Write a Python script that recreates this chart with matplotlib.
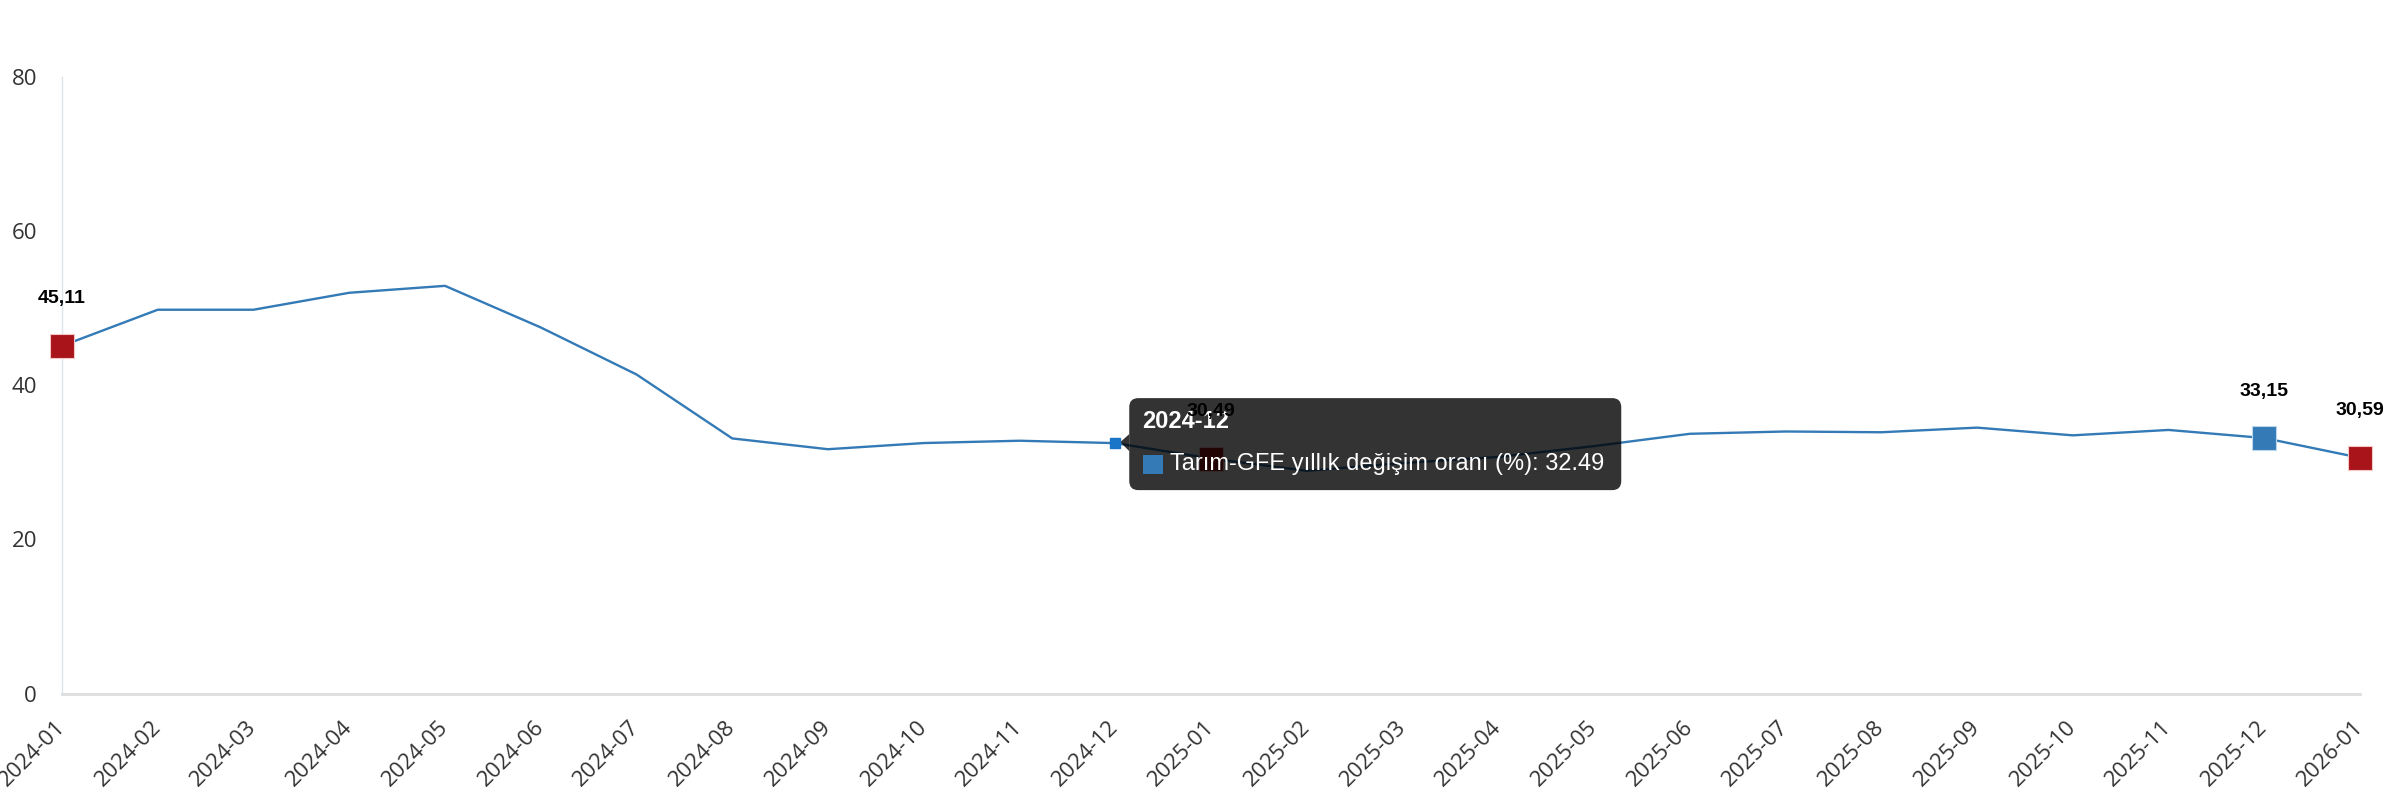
import matplotlib
matplotlib.use("Agg")
import matplotlib.pyplot as plt
from matplotlib.patches import FancyBboxPatch, Polygon, Rectangle
from matplotlib.transforms import IdentityTransform

## data
months = ["2024-01", "2024-02", "2024-03", "2024-04", "2024-05", "2024-06",
          "2024-07", "2024-08", "2024-09", "2024-10", "2024-11", "2024-12",
          "2025-01", "2025-02", "2025-03", "2025-04", "2025-05", "2025-06",
          "2025-07", "2025-08", "2025-09", "2025-10", "2025-11", "2025-12",
          "2026-01"]
values = [45.11, 49.8, 49.8, 52.0, 52.9, 47.5,
          41.4, 33.1, 31.7, 32.5, 32.8, 32.49,
          30.49, 28.9, 29.9, 30.7, 32.1, 33.7,
          34.0, 33.9, 34.5, 33.5, 34.2, 33.15,
          30.59]
red_points = ["2024-01", "2025-01", "2026-01"]
blue_points = ["2025-12"]
hover_month = "2024-12"
series_name = "Tarım-GFE yıllık değişim oranı (%)"
y_ticks = [0, 20, 40, 60, 80]

LINE_COL = "#337ab7"
RED_COL = "#a8141a"

fig = plt.figure(figsize=(23.84, 8), dpi=100)
ax = fig.add_axes([62 / 2384, 1 - 693.5 / 800, (2360 - 62) / 2384, (693.5 - 77) / 800])

x = list(range(len(months)))
ax.plot(x, values, color=LINE_COL, linewidth=1.7, zorder=2)

# highlighted points with labels
for m in red_points + blue_points:
    i = months.index(m)
    col = RED_COL if m in red_points else LINE_COL
    ax.plot(i, values[i], marker="s", markersize=17, color=col,
            markeredgecolor="#f4c6c6" if m in red_points else "#bcd6ec",
            markeredgewidth=0.8, zorder=3, clip_on=False)
    ax.annotate(f"{values[i]:.2f}".replace(".", ","), (i, values[i]),
                textcoords="offset pixels", xytext=(0, 47), ha="center", va="center",
                fontsize=14, fontweight="bold", family="Liberation Sans",
                color="black", zorder=8, annotation_clip=False)

# hovered point
hi = months.index(hover_month)
ax.plot(hi, values[hi], marker="s", markersize=7, color="#1a75c9", zorder=7)

ax.set_xlim(0, len(months) - 1)
ax.set_ylim(0, 80)
ax.set_yticks(y_ticks)
ax.set_xticks(x)
ax.set_xticklabels(months, rotation=45, ha="right", va="center", rotation_mode="anchor")
ax.tick_params(axis="both", length=0, labelsize=16, labelcolor="#333333")
ax.tick_params(axis="y", pad=18)
ax.tick_params(axis="x", pad=22)
for lab in ax.get_xticklabels() + ax.get_yticklabels():
    lab.set_family("Open Sans")

for s in ["top", "right"]:
    ax.spines[s].set_visible(False)
ax.spines["left"].set_color("#dde3ed")
ax.spines["left"].set_linewidth(1.0)
ax.spines["bottom"].set_color("#dedede")
ax.spines["bottom"].set_linewidth(2.0)

# tooltip, placed in pixels relative to the hovered point
px, py = ax.transData.transform((hi, values[hi]))
ident = IdentityTransform()
box = FancyBboxPatch((px + 14, py - 47), 492, 92,
                     boxstyle="round,pad=0,rounding_size=9",
                     facecolor="black", alpha=0.8, edgecolor="none",
                     transform=ident, zorder=5, clip_on=False)
ax.add_patch(box)
arrow = Polygon([(px + 5, py + 1), (px + 14, py + 9), (px + 14, py - 8)],
                closed=True, facecolor="black", alpha=0.8, edgecolor="none",
                transform=ident, zorder=5, clip_on=False)
ax.add_patch(arrow)
ax.text(px + 27, py + 22, hover_month, transform=ident, color="white",
        fontsize=17, fontweight="bold", family="Liberation Sans",
        ha="left", va="center", zorder=6)
ax.add_patch(Rectangle((px + 28, py - 31), 20, 19, facecolor=LINE_COL,
                       edgecolor="none", transform=ident, zorder=6, clip_on=False))
ax.text(px + 55, py - 21, f"{series_name}: {values[hi]:.2f}", transform=ident,
        color="white", fontsize=17, family="Liberation Sans",
        ha="left", va="center", zorder=6)

fig.savefig("out.png", dpi=100, facecolor="white")
